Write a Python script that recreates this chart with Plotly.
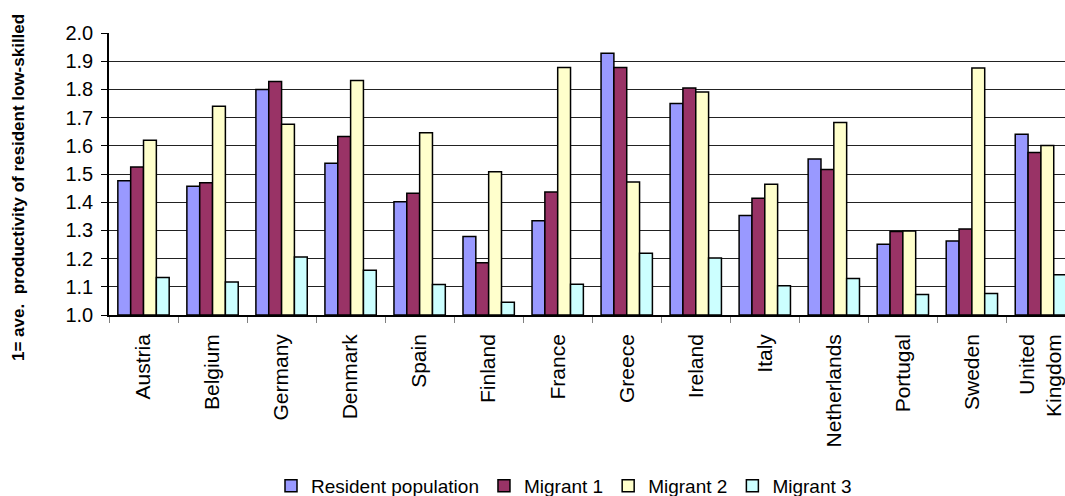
import plotly.graph_objects as go

countries = ["Austria", "Belgium", "Germany", "Denmark", "Spain", "Finland", "France",
             "Greece", "Ireland", "Italy", "Netherlands", "Portugal", "Sweden",
             "United<br>Kingdom"]

resident = [1.476, 1.457, 1.800, 1.538, 1.402, 1.278, 1.334,
            1.928, 1.750, 1.353, 1.553, 1.251, 1.262, 1.641]
migrant1 = [1.525, 1.469, 1.828, 1.633, 1.432, 1.185, 1.436,
            1.878, 1.805, 1.414, 1.516, 1.296, 1.305, 1.576]
migrant2 = [1.620, 1.740, 1.676, 1.832, 1.646, 1.508, 1.878,
            1.472, 1.791, 1.464, 1.683, 1.298, 1.876, 1.601]
migrant3 = [1.133, 1.117, 1.206, 1.159, 1.108, 1.045, 1.109,
            1.219, 1.202, 1.104, 1.129, 1.073, 1.076, 1.143]

series = [
    ("Resident population", resident, "#9999FF"),
    ("Migrant 1", migrant1, "#993366"),
    ("Migrant 2", migrant2, "#FFFFCC"),
    ("Migrant 3", migrant3, "#CCFFFF"),
]

FONT = "Liberation Sans, Arial, sans-serif"

fig = go.Figure()
for name, vals, color in series:
    fig.add_trace(go.Bar(
        x=countries, y=[v - 1.0 for v in vals], base=1.0, name=name,
        marker=dict(color=color, line=dict(color="black", width=1.5)),
        customdata=vals, hovertemplate="%{x}: %{customdata:.3f}<extra>" + name + "</extra>",
    ))

W, H = 1065, 496
L, T, B = 109, 33, 181
plot_w = W - L
plot_h = H - T - B

fig.update_layout(
    width=W, height=H,
    margin=dict(l=L, r=0, t=T, b=B, pad=0),
    paper_bgcolor="white", plot_bgcolor="white",
    barmode="group", bargap=0.256, bargroupgap=0,
    font=dict(family=FONT, color="black"),
    showlegend=True,
    legend=dict(
        orientation="h", xref="container", yref="container",
        x=564 / W, xanchor="center", y=1 - 486 / H, yanchor="middle",
        font=dict(size=19, family=FONT), itemwidth=30,
        tracegroupgap=0, bgcolor="rgba(0,0,0,0)", borderwidth=0,
    ),
)

fig.update_xaxes(
    type="category", range=[-0.5, -0.5 + plot_w / 69.03],
    showline=True, linecolor="black", linewidth=1.5,
    ticks="outside", tickson="boundaries", ticklen=6, tickcolor="#808080",
    tickangle=-90, tickfont=dict(size=21, family=FONT), ticklabelstandoff=9,
    showgrid=False, fixedrange=True, automargin=False,
)
fig.update_yaxes(
    range=[1.0, 2.0], dtick=0.1, tick0=1.0, tickformat=".1f",
    showline=True, linecolor="black", linewidth=1.5,
    ticks="outside", ticklen=6, tickcolor="black",
    tickfont=dict(size=20, family=FONT), ticklabelstandoff=4,
    showgrid=True, gridcolor="#222222", gridwidth=1,
    zeroline=False, fixedrange=True, automargin=False,
)

fig.add_annotation(
    text="<b>1= ave.  productivity of resident low-skilled</b>",
    xref="paper", yref="paper",
    x=(18 - L) / plot_w, y=((H - B) - 188) / plot_h,
    xanchor="center", yanchor="middle", textangle=-90, showarrow=False,
    font=dict(size=17, family=FONT, color="black"),
)

fig.write_html("out.html")
